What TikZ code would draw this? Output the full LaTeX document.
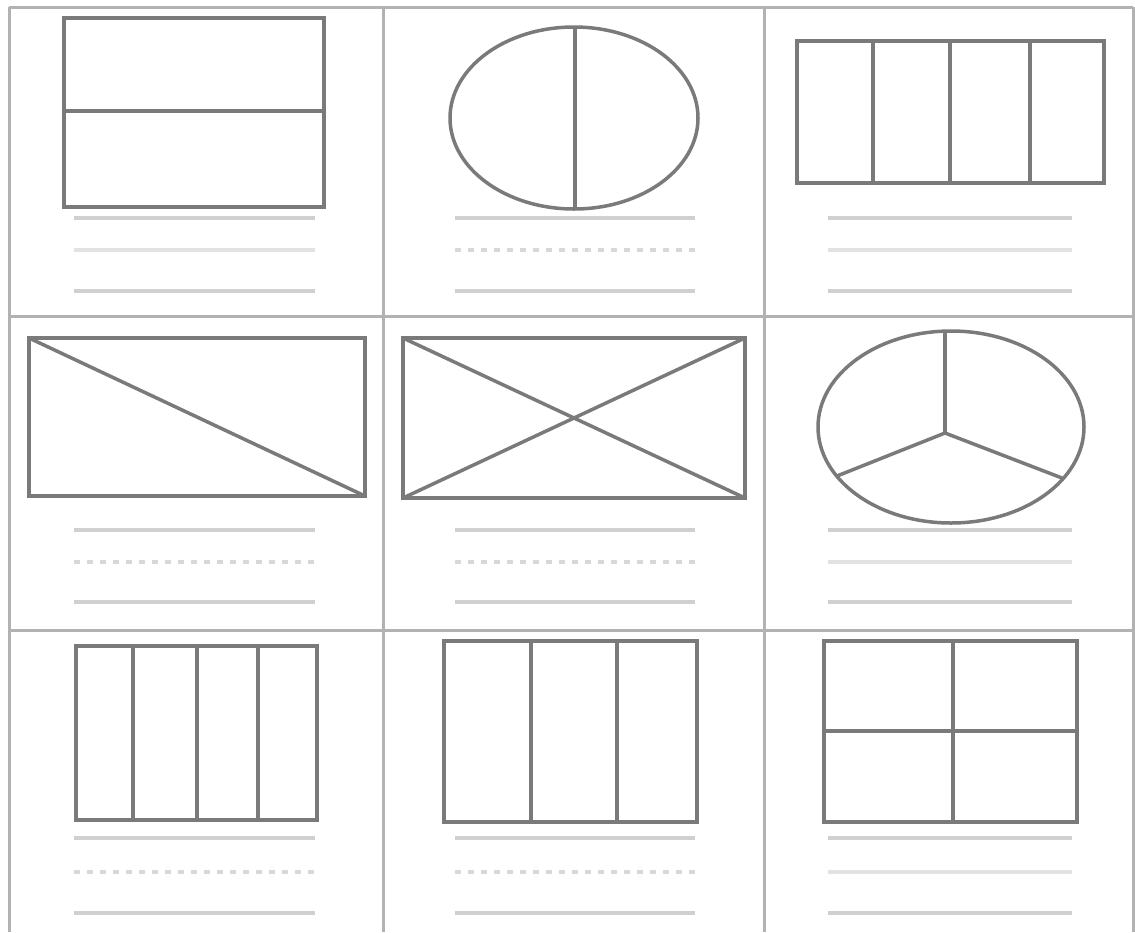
\documentclass[tikz,border=0pt]{standalone}
\definecolor{gridgray}{HTML}{B2B2B2}
\definecolor{inkgray}{HTML}{7A7A7A}
\definecolor{rulegray}{HTML}{D0D0D0}
\definecolor{faintgray}{HTML}{E2E2E2}
\definecolor{dotgray}{HTML}{D8D8D8}
\tikzset{
  cellgrid/.style={draw=gridgray, line width=3pt},
  sketch/.style={draw=inkgray, line width=3.5pt},
  textline/.style={draw=rulegray, line width=4pt},
  faintline/.style={draw=faintgray, line width=4pt},
  dotrule/.style={draw=dotgray, line width=4pt, dash pattern=on 6pt off 7pt}
}
\begin{document}
\begin{tikzpicture}[x=1pt, y=-1pt]
\useasboundingbox (0,0) rectangle (1135,932);

% cell borders
\foreach \gx in {9,383,764,1133}
  \draw[cellgrid] (\gx,7) -- (\gx,932);
\foreach \gy in {7,316,630}
  \draw[cellgrid] (9,\gy) -- (1133,\gy);

% row 1
\draw[sketch] (64,18) rectangle (324,207);
\draw[sketch] (64,111) -- (324,111);

\draw[sketch] (574,118) ellipse [x radius=124, y radius=91];
\draw[sketch] (575,27) -- (575,210);

\draw[sketch] (797,41) rectangle (1104,183);
\foreach \vx in {873,950,1030}
  \draw[sketch] (\vx,41) -- (\vx,183);

% row 2
\draw[sketch] (29,338) rectangle (365,496);
\draw[sketch] (29,338) -- (365,496);

\draw[sketch] (403,338) rectangle (745,498);
\draw[sketch] (403,338) -- (745,498);
\draw[sketch] (403,498) -- (745,338);

\draw[sketch] (951,427) ellipse [x radius=133, y radius=96];
\coordinate (hub) at (945,433);
\draw[sketch] (hub) -- (945,331);
\draw[sketch] (hub) -- (837,476);
\draw[sketch] (hub) -- (1062,478);

% row 3
\draw[sketch] (76,646) rectangle (317,820);
\foreach \vx in {133,197,258}
  \draw[sketch] (\vx,646) -- (\vx,820);

\draw[sketch] (444,641) rectangle (697,822);
\foreach \vx in {531,617}
  \draw[sketch] (\vx,641) -- (\vx,822);

\draw[sketch] (824,641) rectangle (1077,822);
\draw[sketch] (953,641) -- (953,822);
\draw[sketch] (824,731) -- (1077,731);

% caption lines under each sketch
\foreach \xa/\xb/\ya/\yb/\yc/\mid in {
    74/315/218/250/291/faintline, 455/695/218/250/291/dotrule, 828/1072/218/250/291/faintline,
    74/315/530/562/602/dotrule, 455/695/530/562/602/dotrule, 828/1072/530/562/602/faintline,
    74/315/838/872/913/dotrule, 455/695/838/872/913/dotrule, 828/1072/838/872/913/faintline} {
  \draw[textline] (\xa,\ya) -- (\xb,\ya);
  \draw[\mid] (\xa,\yb) -- (\xb,\yb);
  \draw[textline] (\xa,\yc) -- (\xb,\yc);
}

\end{tikzpicture}
\end{document}
